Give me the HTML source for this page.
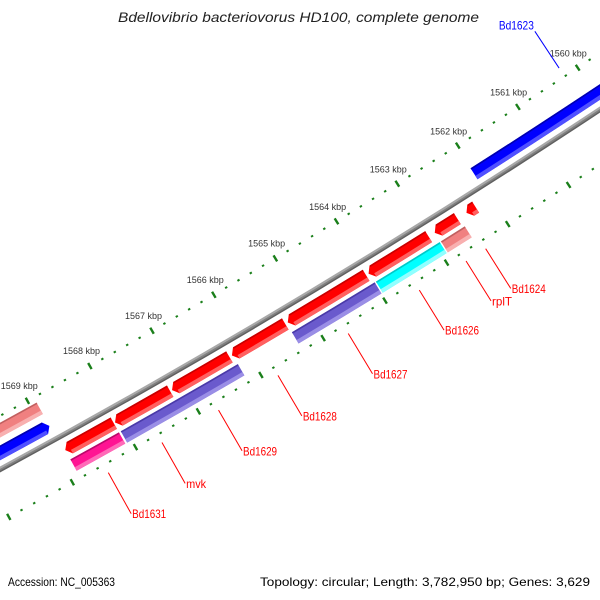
<!DOCTYPE html>
<html><head><meta charset="utf-8"><title>Bdellovibrio bacteriovorus HD100 genome map</title>
<style>html,body{margin:0;padding:0;background:#fff}svg{display:block}</style></head>
<body>
<svg id="map" xmlns="http://www.w3.org/2000/svg" width="600" height="600" viewBox="0 0 600 600">
<rect width="600" height="600" fill="#fff"/>
<g id="ticks"></g>
<g id="backbone"></g>
<g id="feats"></g>
<g id="labels"></g>
<text x="118" y="22" font-family="Liberation Sans, sans-serif" font-style="italic" font-size="14" fill="#222" textLength="361" lengthAdjust="spacingAndGlyphs">Bdellovibrio bacteriovorus HD100, complete genome</text>
<text x="8" y="586" font-family="Liberation Sans, sans-serif" font-size="12" fill="#000" textLength="107" lengthAdjust="spacingAndGlyphs">Accession: NC_005363</text>
<text x="260" y="586" font-family="Liberation Sans, sans-serif" font-size="12" fill="#000" textLength="330" lengthAdjust="spacingAndGlyphs">Topology: circular; Length: 3,782,950 bp; Genes: 3,629</text>
</svg>
<script>
// ---- data (positions in kbp) ----
const featNames = ["Bd1623","left-blue","left-pink","Bd1631-arrow","mvk","Bd1629","Bd1628","red-5","red-6","red-7","Bd1624","magenta","purple-1","Bd1627","Bd1626","rplT"];
const featStart = [1558.40,1568.90,1568.90,1568.10,1567.20,1566.25,1565.35,1564.04,1563.02,1562.55,1562.25,1568.10,1566.20,1563.99,1562.93,1562.52];
const featEnd   = [1562.02,1571.00,1571.00,1568.87,1568.08,1567.17,1566.21,1565.31,1564.00,1562.92,1562.40,1568.87,1568.07,1565.33,1563.97,1562.91];
const featRow   = [-1,-1,-2,1,1,1,1,1,1,1,1,2,2,2,2,2];
const featDir   = [0,-1,0,1,1,1,1,1,1,1,1,0,0,0,0,0];
const featKind  = ["blue","blue","pink","red","red","red","red","red","red","red","red","magenta","purple","purple","cyan","pink"];
const labelText = ["Bd1631","mvk","Bd1629","Bd1628","Bd1627","Bd1626","rplT","Bd1624"];
const labelKbp  = [1568.50,1567.65,1566.75,1565.80,1564.67,1563.52,1562.76,1562.44];
const innerLabelText = ["Bd1623"];
const innerLabelKbp = [1560.22];
const tickStartKbp = 1558;
const tickEndKbp = 1572;

// ---- geometry ----
const CX=-3777.3, CY=-6505.5, R=7932;
const A0=60.63, DEG_PER_KBP=0.5195;
function ang(k){return (A0+(k-1568)*DEG_PER_KBP)*Math.PI/180;}
function pt(k,r){const a=ang(k);return [CX+r*Math.cos(a),CY+r*Math.sin(a)];}
function f(p){return p[0].toFixed(2)+" "+p[1].toFixed(2);}
const NS="http://www.w3.org/2000/svg";
const rowR={"-2":[R-41,R-28],"-1":[R-21,R-8],"1":[R+8,R+21],"2":[R+25,R+38]};
const palette={
 red:["#ff0000","#c80000","#ff6060"],
 blue:["#0000ff","#0000b0","#5050ff"],
 purple:["#6a5acd","#4a3aa8","#9a8ee6"],
 cyan:["#00ffff","#00c8c8","#90ffff"],
 magenta:["#ff1493","#b80a6a","#ff6ab8"],
 pink:["#f08080","#c06060","#f8b0b0"]
};
function shapePath(kLo,kHi,r1,r2,dir){
  const h=0.07, rm=(r1+r2)/2;
  const a=kLo+(dir<0?h:0), b=kHi-(dir>0?h:0);
  let d="M"+f(pt(a,r1))+" A"+r1+" "+r1+" 0 0 1 "+f(pt(b,r1));
  if(dir>0) d+=" L"+f(pt(kHi,rm));
  d+=" L"+f(pt(b,r2))+" A"+r2+" "+r2+" 0 0 0 "+f(pt(a,r2));
  if(dir<0) d+=" L"+f(pt(kLo,rm));
  return d+" Z";
}
function bandPath(kLo,kHi,r1,r2){
  return "M"+f(pt(kLo,r1))+" A"+r1+" "+r1+" 0 0 1 "+f(pt(kHi,r1))+" L"+f(pt(kHi,r2))+" A"+r2+" "+r2+" 0 0 0 "+f(pt(kLo,r2))+" Z";
}

// ticks
const tg=document.getElementById("ticks");
const rings=[R-47,R+46];
rings.forEach(function(rr,ri){
  for(let i=Math.round(tickStartKbp*5);i<=Math.round(tickEndKbp*5);i++){
    const k=i/5, major=(i%5===0);
    const p1=pt(k,rr-(major?3.5:1)), p2=pt(k,rr+(major?3.5:1));
    const ln=document.createElementNS(NS,"line");
    ln.setAttribute("x1",p1[0]);ln.setAttribute("y1",p1[1]);ln.setAttribute("x2",p2[0]);ln.setAttribute("y2",p2[1]);
    ln.setAttribute("stroke","#1a7f1a");ln.setAttribute("stroke-width","2.4");
    
    
    tg.appendChild(ln);
    if(major && ri===0){
      const lp=pt(k,R-64);
      const t=document.createElementNS(NS,"text");
      t.setAttribute("x",lp[0]);t.setAttribute("y",lp[1]+3);
      t.setAttribute("text-anchor","middle");t.setAttribute("font-family","Liberation Sans, sans-serif");
      t.setAttribute("font-size","9");t.setAttribute("fill","#333");
      t.textContent=k+" kbp";
      
      
      tg.appendChild(t);
    }
  }
});

// backbone
const bg=document.getElementById("backbone");
[[R-1.5,2,"#a8a8a8"],[R+0.5,2,"#808080"],[R+2,1.5,"#606060"]].forEach(function(s){
  const p=document.createElementNS(NS,"path");
  p.setAttribute("d","M"+f(pt(1557,s[0]))+" A"+s[0]+" "+s[0]+" 0 0 1 "+f(pt(1572,s[0])));
  p.setAttribute("fill","none");p.setAttribute("stroke",s[2]);p.setAttribute("stroke-width",s[1]);
  
  
  bg.appendChild(p);
});

// features
const fg=document.getElementById("feats");
for(let i=0;i<featStart.length;i++){
  const kLo=Math.min(featStart[i],featEnd[i]), kHi=Math.max(featStart[i],featEnd[i]);
  const rr=rowR[String(featRow[i])], col=palette[featKind[i]], dir=featDir[i];
  const g=document.createElementNS(NS,"g");
  
  
  const main=document.createElementNS(NS,"path");
  main.setAttribute("d",shapePath(kLo,kHi,rr[0],rr[1],dir));
  main.setAttribute("fill",col[0]);
  g.appendChild(main);
  const h=0.07, a=kLo+(dir<0?h:0), b=kHi-(dir>0?h:0);
  const dark=document.createElementNS(NS,"path");
  dark.setAttribute("d",bandPath(a,b,rr[0],rr[0]+1.6));
  dark.setAttribute("fill",col[1]);
  g.appendChild(dark);
  const light=document.createElementNS(NS,"path");
  light.setAttribute("d",bandPath(a,b,rr[1]-4,rr[1]));
  light.setAttribute("fill",col[2]);
  g.appendChild(light);
  fg.appendChild(g);
}

// labels (outer, red)
const lg=document.getElementById("labels");
for(let i=0;i<labelText.length;i++){
  const p1=pt(labelKbp[i],R+55), p2=pt(labelKbp[i],R+102);
  const ln=document.createElementNS(NS,"line");
  ln.setAttribute("x1",p1[0]);ln.setAttribute("y1",p1[1]);ln.setAttribute("x2",p2[0]);ln.setAttribute("y2",p2[1]);
  ln.setAttribute("stroke","#ff0000");ln.setAttribute("stroke-width","1");
  
  
  lg.appendChild(ln);
  const t=document.createElementNS(NS,"text");
  t.setAttribute("x",p2[0]+1);t.setAttribute("y",p2[1]+4.5);
  t.setAttribute("font-family","Liberation Sans, sans-serif");t.setAttribute("font-size","12");
  t.setAttribute("fill","#ff0000");
  t.setAttribute("textLength",labelText[i].length<5?20:34);t.setAttribute("lengthAdjust","spacingAndGlyphs");
  t.textContent=labelText[i];
  
  
  lg.appendChild(t);
}
for(let i=0;i<innerLabelText.length;i++){
  const p1=pt(innerLabelKbp[i],R-57), p2=pt(innerLabelKbp[i],R-101);
  const ln=document.createElementNS(NS,"line");
  ln.setAttribute("x1",p1[0]);ln.setAttribute("y1",p1[1]);ln.setAttribute("x2",p2[0]);ln.setAttribute("y2",p2[1]);
  ln.setAttribute("stroke","#0000ff");ln.setAttribute("stroke-width","1");
  
  
  lg.appendChild(ln);
  const t=document.createElementNS(NS,"text");
  t.setAttribute("x",p2[0]-1);t.setAttribute("y",p2[1]-2);
  t.setAttribute("text-anchor","end");
  t.setAttribute("font-family","Liberation Sans, sans-serif");t.setAttribute("font-size","12");
  t.setAttribute("fill","#0000ff");
  t.setAttribute("textLength",35);t.setAttribute("lengthAdjust","spacingAndGlyphs");
  t.textContent=innerLabelText[i];
  
  
  lg.appendChild(t);
}
</script>
</body></html>
